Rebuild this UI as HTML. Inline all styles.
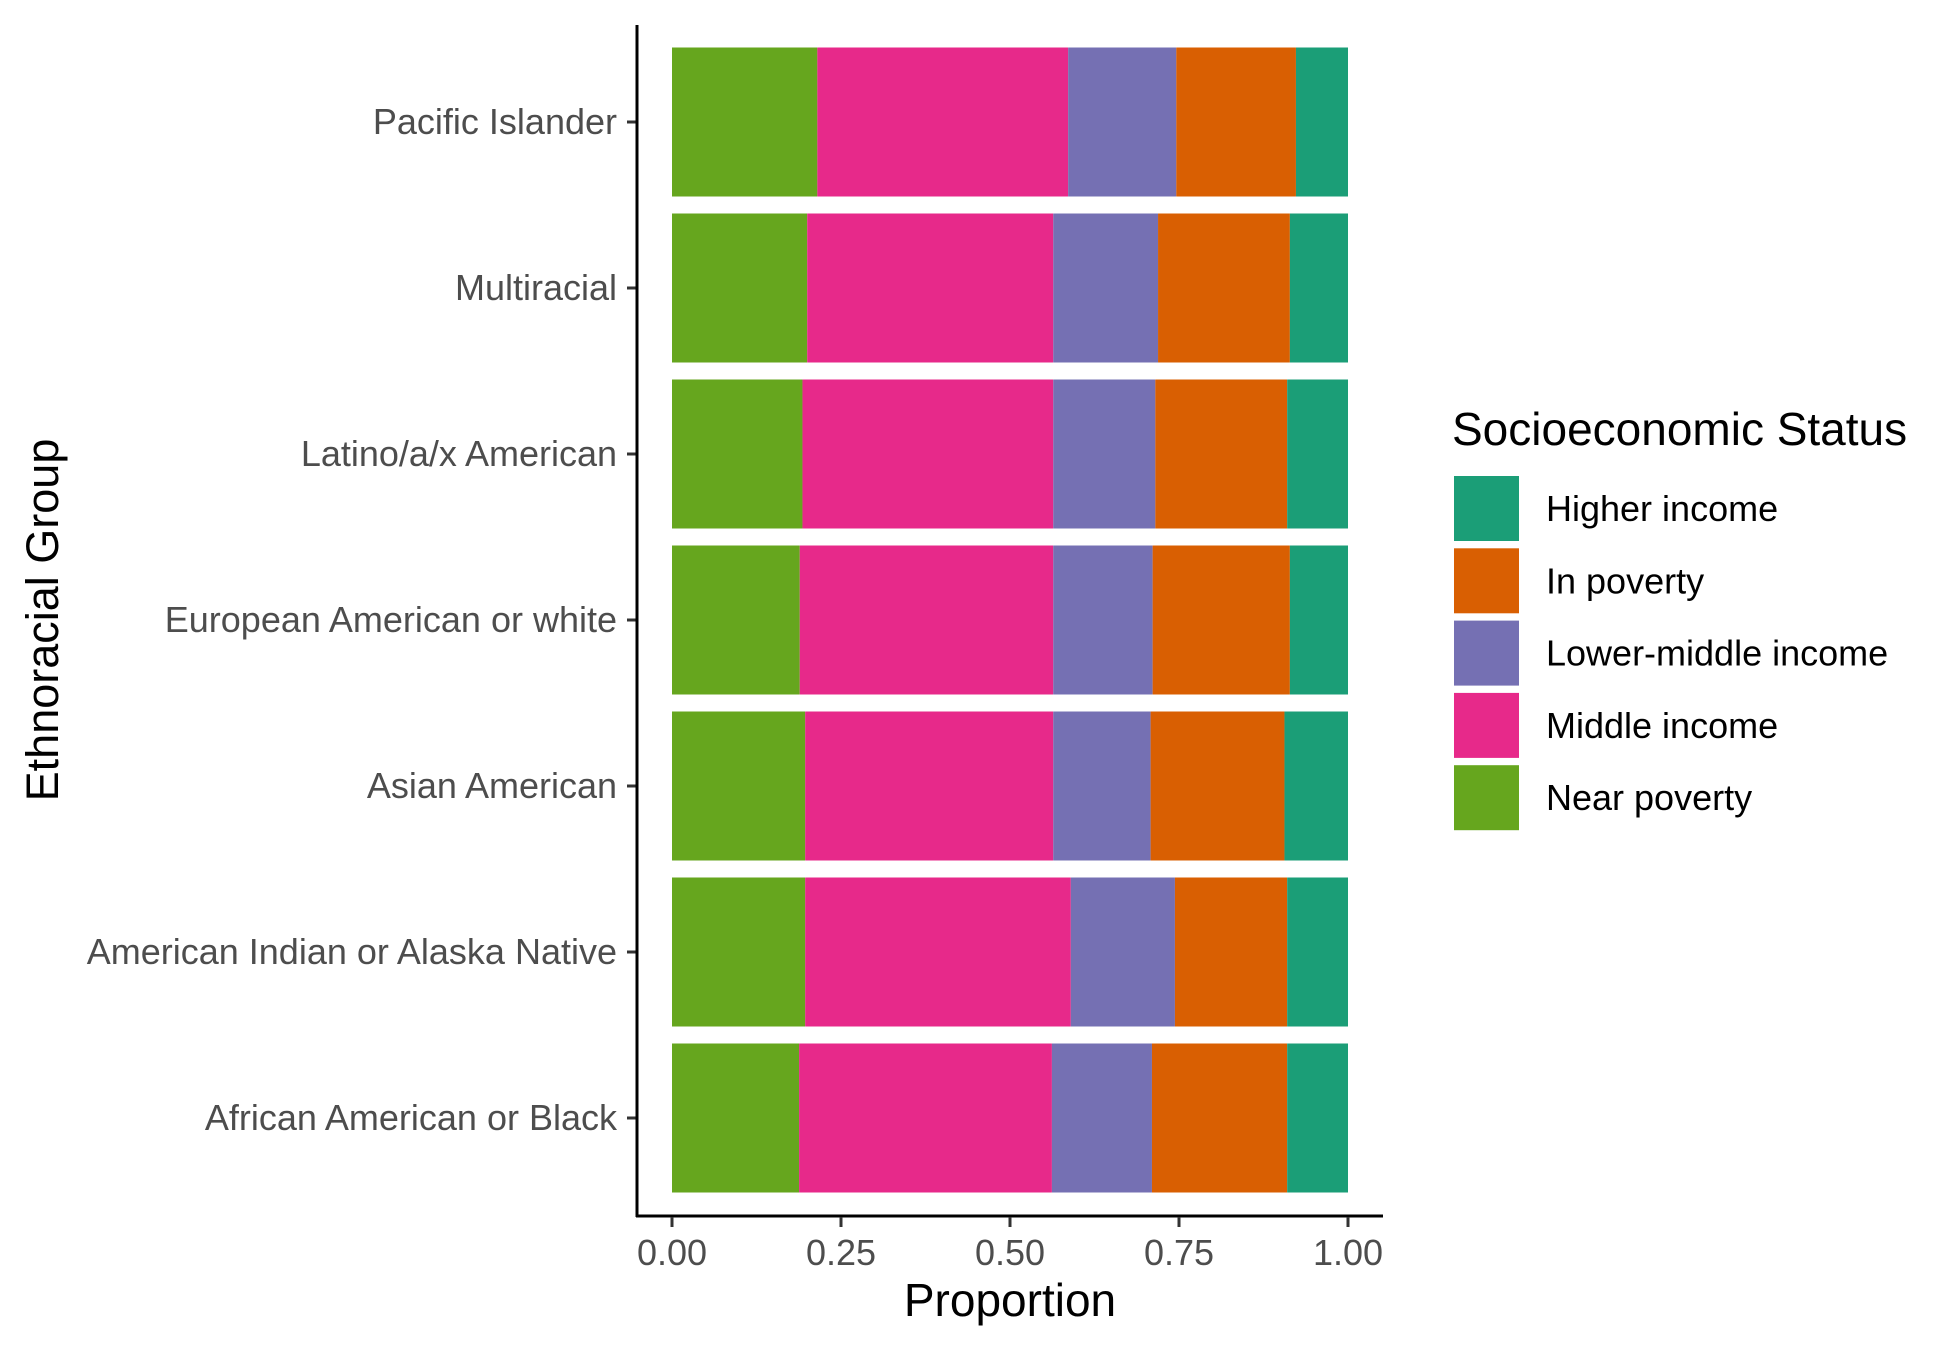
<!DOCTYPE html>
<html><head><meta charset="utf-8"><style>
body{margin:0;background:#fff;}
svg text{font-family:"Liberation Sans",Arial,sans-serif;}
</style></head><body>
<svg id="chart" width="1950" height="1349" xmlns="http://www.w3.org/2000/svg"></svg>
<script>
const categories=["African American or Black","American Indian or Alaska Native","Asian American","European American or white","Latino/a/x American","Multiracial","Pacific Islander"];
const nearPoverty=[0.188,0.197,0.197,0.189,0.193,0.200,0.215];
const middleIncome=[0.374,0.393,0.367,0.375,0.371,0.364,0.371];
const lowerMiddle=[0.148,0.154,0.144,0.147,0.151,0.155,0.160];
const inPoverty=[0.200,0.166,0.198,0.203,0.195,0.195,0.177];
const higherIncome=[0.090,0.090,0.094,0.086,0.090,0.086,0.077];
const xTicks=[0,0.25,0.5,0.75,1];
const xTickLabels=["0.00","0.25","0.50","0.75","1.00"];
const seriesNames=["Near poverty","Middle income","Lower-middle income","In poverty","Higher income"];
const legendNames=["Higher income","In poverty","Lower-middle income","Middle income","Near poverty"];
const colors={"Near poverty":"#66a61e","Middle income":"#e7298a","Lower-middle income":"#7570b3","In poverty":"#d95f02","Higher income":"#1b9e77"};
const seriesData=[nearPoverty,middleIncome,lowerMiddle,inPoverty,higherIncome];

const svg=document.getElementById('chart');
const NS="http://www.w3.org/2000/svg";
function mk(t,a,txt){const e=document.createElementNS(NS,t);for(const k in a)e.setAttribute(k,a[k]);if(txt!==undefined)e.textContent=txt;svg.appendChild(e);return e;}
const X0=672,X1=1348;
function xs(v){return X0+(X1-X0)*v;}
const pitch=166.0,barH=149;
function yc(i){const n=categories.length;return 47.5+barH/2+(n-1-i)*pitch;}
const AX=637,AY=1216;

categories.forEach((c,i)=>{
  let cum=0;
  seriesData.forEach((arr,s)=>{
    const v=arr[i];
    const r=mk('rect',{x:xs(cum),y:yc(i)-barH/2,width:xs(cum+v)-xs(cum),height:barH,fill:colors[seriesNames[s]]});
    
    
    cum+=v;
  });
  const t=mk('line',{x1:AX-10,x2:AX,y1:yc(i),y2:yc(i),stroke:'#333','stroke-width':3});
  
  
  const l=mk('text',{x:617,y:yc(i)+12,'text-anchor':'end','font-size':'36','fill':'#4d4d4d'},c);
  
  
});
let a=mk('line',{x1:AX,x2:AX,y1:25,y2:AY+1,stroke:'#000','stroke-width':3});


a=mk('line',{x1:AX-1,x2:1383,y1:AY,y2:AY,stroke:'#000','stroke-width':3});


xTicks.forEach((v,i)=>{
  const t=mk('line',{x1:xs(v),x2:xs(v),y1:AY+1,y2:AY+11,stroke:'#333','stroke-width':3});
  
  
  const l=mk('text',{x:xs(v),y:1265,'text-anchor':'middle','font-size':'36','fill':'#4d4d4d'},xTickLabels[i]);
  
  
});
a=mk('text',{x:1010,y:1316,'text-anchor':'middle','font-size':'46','fill':'#000'},'Proportion');


a=mk('text',{x:0,y:0,'text-anchor':'middle','font-size':'45','fill':'#000',transform:'translate(58,620) rotate(-90)'},'Ethnoracial Group');


a=mk('text',{x:1452,y:445,'font-size':'46','fill':'#000'},'Socioeconomic Status');


legendNames.forEach((n,i)=>{
  const y=476+i*72.3;
  const r=mk('rect',{x:1454,y:y,width:65,height:65,fill:colors[n]});
  
  
  const t=mk('text',{x:1546,y:y+45,'font-size':'36','fill':'#000'},n);
  
  
});
</script>
</body></html>
